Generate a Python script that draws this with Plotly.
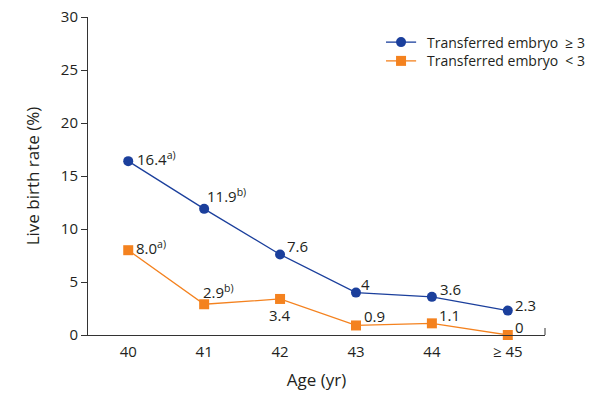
import plotly.graph_objects as go

ages = ["40", "41", "42", "43", "44", "≥ 45"]
ge3 = [16.4, 11.9, 7.6, 4.0, 3.6, 2.3]
lt3 = [8.0, 2.9, 3.4, 0.9, 1.1, 0.0]
ge3_labels = ["16.4<sup>a)</sup>", "11.9<sup>b)</sup>", "7.6", "4", "3.6", "2.3"]
lt3_labels = ["8.0<sup>a)</sup>", "2.9<sup>b)</sup>", "3.4", "0.9", "1.1", "0"]
series_names = ["Transferred embryo  ≥ 3", "Transferred embryo  < 3"]
# label offsets in pixels (dx, dy up), anchor
ge3_off = [(7, 3, "left"), (1, 13, "left"), (5, 8, "left"), (3, 9, "left"), (6, 8, "left"), (5, 6, "left")]
lt3_off = [(6, 3, "left"), (-3, 13, "left"), (0, -16, "center"), (6, 9, "left"), (5, 8, "left"), (5, 8, "left")]

BLUE = "#1b3f9c"
ORANGE = "#f4821f"
TXT = "#231f20"
AX = "#333333"
FONT = "Open Sans"
x = list(range(len(ages)))

fig = go.Figure()
fig.add_trace(go.Scatter(
    x=x, y=ge3, mode="lines+markers", name=series_names[0], showlegend=False,
    line=dict(color=BLUE, width=1.3), marker=dict(symbol="circle", size=10, color=BLUE),
    cliponaxis=False, hoverinfo="skip"))
fig.add_trace(go.Scatter(
    x=x, y=lt3, mode="lines+markers", name=series_names[1], showlegend=False,
    line=dict(color=ORANGE, width=1.3), marker=dict(symbol="square", size=10, color=ORANGE),
    cliponaxis=False, hoverinfo="skip"))

for vals, labels, offs in [(ge3, ge3_labels, ge3_off), (lt3, lt3_labels, lt3_off)]:
    for xi, v, lab, (dx, dy, anc) in zip(x, vals, labels, offs):
        fig.add_annotation(x=xi, y=v, text=lab, showarrow=False, xanchor=anc, yanchor="middle",
                           xshift=dx, yshift=dy, font=dict(size=15, color=TXT, family=FONT))

# manual legend (paper coordinates)
leg_rows = [(0.921, BLUE, "circle", series_names[0]), (0.862, ORANGE, "rect", series_names[1])]
for yy, col, shp, name in leg_rows:
    fig.add_shape(type="line", xref="paper", yref="paper", x0=0.652, x1=0.718, y0=yy, y1=yy,
                  line=dict(color=col, width=1.3))
    fig.add_shape(type=shp, xref="paper", yref="paper", xsizemode="pixel", ysizemode="pixel",
                  xanchor=0.685, yanchor=yy, x0=-5, x1=5, y0=-5, y1=5,
                  fillcolor=col, line=dict(color=col, width=0))
    fig.add_annotation(xref="paper", yref="paper", x=0.737, y=yy, text=name, showarrow=False,
                       xanchor="left", yanchor="middle", font=dict(size=14, color=TXT, family=FONT))

fig.update_layout(
    width=593, height=400,
    margin=dict(l=88, r=48, t=17, b=65),
    plot_bgcolor="white", paper_bgcolor="white",
    font=dict(family=FONT, color=TXT, size=15),
    showlegend=False,
    xaxis=dict(
        tickmode="array", tickvals=x, ticktext=ages, range=[-0.53, 5.49],
        showline=True, linecolor=AX, linewidth=1, ticks="", showgrid=False, zeroline=False,
        title=dict(text="Age (yr)", font=dict(size=17), standoff=14), automargin=False,
        tickfont=dict(size=15), ticklabelstandoff=3),
    yaxis=dict(
        range=[0, 30], tickvals=[0, 5, 10, 15, 20, 25, 30],
        showline=True, linecolor=AX, linewidth=1, ticks="outside", ticklen=6,
        tickcolor=AX, showgrid=False, zeroline=False, ticklabeloverflow="allow",
        title=dict(text="Live birth rate (%)", font=dict(size=17), standoff=16), automargin=False,
        tickfont=dict(size=15)),
)
fig.add_shape(type="line", xref="paper", yref="paper", x0=1, x1=1, y0=0, y1=0.022,
              line=dict(color=AX, width=1))
fig.write_html("out.html", config={"displayModeBar": False},
               post_script="document.body.style.margin='0';")
